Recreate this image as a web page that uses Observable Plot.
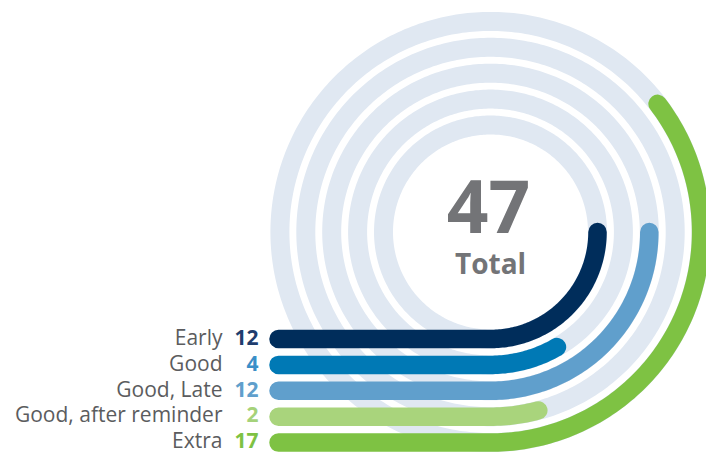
<!DOCTYPE html>
<html>
<head>
<meta charset="utf-8">
<script src="https://cdn.jsdelivr.net/npm/d3@7"></script>
<script src="https://cdn.jsdelivr.net/npm/@observablehq/plot@0.6"></script>
<style>
  html, body { margin: 0; padding: 0; background: #fff; }
  #chart svg { display: block; }
</style>
</head>
<body>
<div id="chart"></div>
<script>
const categories = ["Early", "Good", "Good, Late", "Good, after reminder", "Extra"];
const values = [12, 4, 12, 2, 17];
const barColors = ["#002d5b", "#0079b5", "#609fcc", "#a9d47c", "#7ec243"];
const valueColors = ["#1f3d6e", "#3a8fc8", "#609fcc", "#a5d27a", "#7ec243"];
const fullCircleValue = 48;
const totalLabel = "Total";

// layout (pixels in the chart's own coordinate space)
const innerRadius = 107;
const ringStep = 25.9;
const tailLength = 212;
const bandWidth = 18.5;

const rows = categories.map((c, i) => ({
  category: c, value: values[i], color: barColors[i], valueColor: valueColors[i],
  r: innerRadius + i * ringStep
}));

const tracks = [];
rows.forEach(d => {
  for (let k = 0; k <= 360; k++) {
    const t = k / 360 * 2 * Math.PI;
    tracks.push({category: d.category, x: d.r * Math.sin(t), y: -d.r * Math.cos(t)});
  }
});

const bars = [];
rows.forEach(d => {
  bars.push({category: d.category, color: d.color, x: -tailLength, y: -d.r});
  const end = d.value / fullCircleValue * 2 * Math.PI;
  const n = Math.max(2, Math.ceil(end / (Math.PI / 180)));
  for (let k = 0; k <= n; k++) {
    const t = end * k / n;
    bars.push({category: d.category, color: d.color, x: d.r * Math.sin(t), y: -d.r * Math.cos(t)});
  }
});

const total = d3.sum(values);
const labelFont = "'Open Sans', sans-serif";
const centerFont = "'Open Sans', sans-serif";

const chart = Plot.plot({
  width: 706,
  height: 458,
  margin: 0,
  x: {domain: [-490, 216], axis: null},
  y: {domain: [-226.5, 231.5], axis: null},
  style: {fontFamily: labelFont, background: "#fff"},
  marks: [
    Plot.line(tracks, {x: "x", y: "y", z: "category", stroke: "#e0e8f2", strokeWidth: 19, curve: "linear"}),
    Plot.line(bars, {x: "x", y: "y", z: "category", stroke: "color", strokeWidth: bandWidth, strokeLinecap: "round", strokeLinejoin: "round", curve: "linear"}),
    Plot.text(rows, {x: () => -268, y: d => -d.r, text: "category", textAnchor: "end", fill: "#5b5c5e", fontSize: 21, letterSpacing: 0.8, dy: -1}),
    Plot.text(rows, {x: () => -232, y: d => -d.r, text: d => String(d.value), textAnchor: "end", fill: "valueColor", fontSize: 21, fontWeight: "bold", letterSpacing: 0.5, dy: -1}),
    Plot.text([total], {x: () => -2, y: () => 22, text: d => String(d), fill: "#737477", fontSize: 73, fontWeight: "bold", fontFamily: centerFont}),
    Plot.text([totalLabel], {x: () => 0, y: () => -33, text: d => d, fill: "#737477", fontSize: 28, fontWeight: "bold", fontFamily: centerFont})
  ]
});
document.getElementById("chart").appendChild(chart);
</script>
</body>
</html>
